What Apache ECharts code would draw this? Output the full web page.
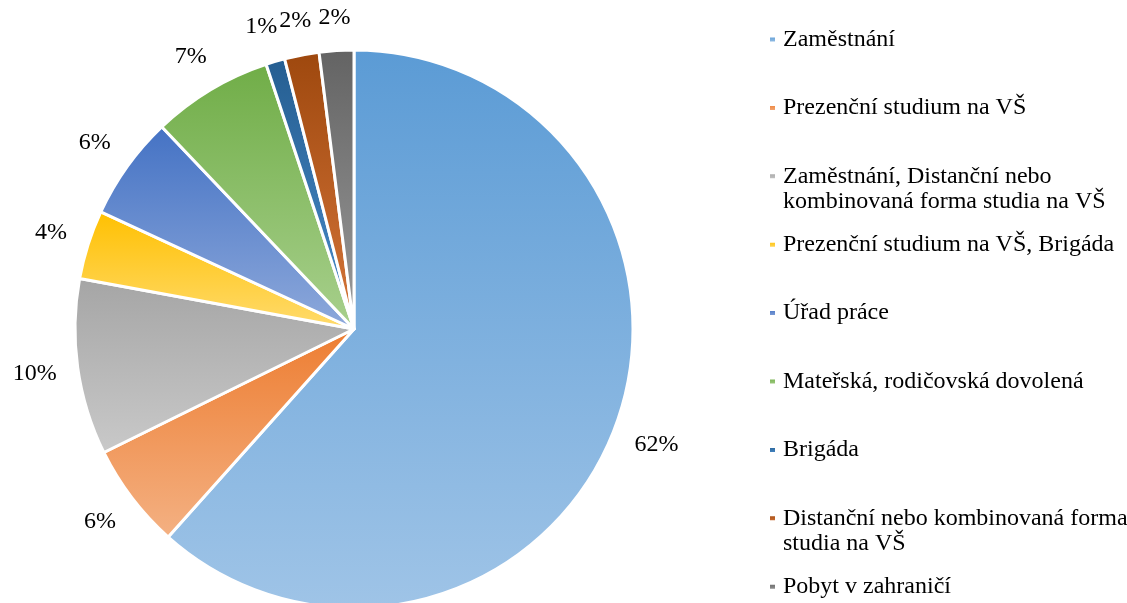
<!DOCTYPE html>
<html>
<head>
<meta charset="utf-8">
<script src="https://cdn.jsdelivr.net/npm/echarts@6/dist/echarts.min.js"></script>
<style>
    html, body { margin: 0; padding: 0; background: #fff; }
    #chart { width: 1127px; height: 603px; }
</style>
</head>
<body>
<div id="chart"></div>
<script>
const categories = [
    'Zaměstnání',
    'Prezenční studium na VŠ',
    'Zaměstnání, Distanční nebo kombinovaná forma studia na VŠ',
    'Prezenční studium na VŠ, Brigáda',
    'Úřad práce',
    'Mateřská, rodičovská dovolená',
    'Brigáda',
    'Distanční nebo kombinovaná forma studia na VŠ',
    'Pobyt v zahraničí'
]
// shares (%) read from the slice edges; labels show them rounded
const values = [61.6, 6.1, 10.2, 4.0, 6.0, 7.0, 1.1, 2.0, 2.0]
// how the legend wraps the long names
const legendLines = [
    ['Zaměstnání'],
    ['Prezenční studium na VŠ'],
    ['Zaměstnání, Distanční nebo', 'kombinovaná forma studia na VŠ'],
    ['Prezenční studium na VŠ, Brigáda'],
    ['Úřad práce'],
    ['Mateřská, rodičovská dovolená'],
    ['Brigáda'],
    ['Distanční nebo kombinovaná forma', 'studia na VŠ'],
    ['Pobyt v zahraničí']
]
const topColors = ['#5B9BD5', '#ED7D31', '#A5A5A5', '#FFC000', '#4472C4', '#70AD47', '#255E91', '#9E480E', '#636363']
const bottomColors = ['#9FC4E7', '#F4B183', '#C9C9C9', '#FFDB6E', '#8EA9DB', '#A8D08D', '#4A8CCB', '#D6763A', '#9B9B9B']

const font = 'Liberation Serif, Times New Roman, serif'
const fontSize = 24
const lineH = 25

const center = [354, 329]
const radius = 279
const labelGap = 20

const chart = echarts.init(document.getElementById('chart'))

function gradient(i) {
    return {
        type: 'linear', x: 0, y: 0, x2: 0, y2: 1,
        colorStops: [
            { offset: 0, color: topColors[i] },
            { offset: 1, color: bottomColors[i] }
        ]
    }
}

const pieData = categories.map((name, i) => ({
    name: name,
    value: values[i],
    itemStyle: { color: gradient(i) }
}))

// one legend per entry so every entry starts at the same spacing
const legends = categories.map((name, i) => {
    const lines = legendLines[i]
    // a blank first line keeps the icon level with the first text line
    const text = lines.length > 1 ? [' '].concat(lines).join('\n') : lines[0]
    const n = lines.length > 1 ? lines.length + 1 : 1
    const firstLineCenter = 39.5 + i * 68.4
    return {
        data: [name],
        orient: 'vertical',
        left: 768,
        top: firstLineCenter - n * lineH / 2,
        padding: 0,
        icon: 'rect',
        itemWidth: 7,
        itemHeight: 6,
        selectedMode: false,
        formatter: () => text,
        textStyle: {
            fontFamily: font,
            fontSize: fontSize,
            lineHeight: lineH,
            color: '#000',
            padding: [0, 0, 0, 2]
        }
    }
})

// labels sit just outside the rim, like "outside end" labels
const labelPos = []
function placeLabel(p) {
    const r = p.labelRect
    const dx = r.x + r.width / 2 - center[0]
    const dy = r.y + r.height / 2 - center[1]
    const len = Math.sqrt(dx * dx + dy * dy) || 1
    const ux = dx / len, uy = dy / len
    const dist = radius + labelGap + Math.abs(ux) * r.width / 2 + Math.abs(uy) * r.height / 2
    labelPos[p.dataIndex] = { x: center[0] + ux * dist, y: center[1] + uy * dist, w: r.width, h: r.height }
    return { x: labelPos[p.dataIndex].x, y: labelPos[p.dataIndex].y, align: 'center', verticalAlign: 'middle', hideOverlap: false }
}

// crowded labels near the top get pushed left
function spreadLabels() {
    for (let i = labelPos.length - 2; i >= 0; i--) {
        const a = labelPos[i], b = labelPos[i + 1]
        if (!a || !b) continue
        const overlapY = Math.abs(a.y - b.y) < (a.h + b.h) / 2
        const overlapX = a.x + a.w / 2 > b.x - b.w / 2 && a.x < b.x
        if (overlapY && overlapX) {
            a.x = b.x - b.w / 2 - a.w / 2 - 2
        }
    }
}

const option = {
    backgroundColor: '#fff',
    animation: false,
    legend: legends,
    series: [
        {
            type: 'pie',
            center: center,
            radius: radius,
            startAngle: 90,
            clockwise: true,
            label: {
                show: true,
                position: 'inside',
                formatter: (p) => Math.round(p.value) + '%',
                fontFamily: font,
                fontSize: fontSize,
                color: '#000'
            },
            labelLine: { show: false },
            labelLayout: placeLabel,
            itemStyle: { borderColor: '#fff', borderWidth: 3 },
            emphasis: { disabled: true },
            data: pieData
        }
    ]
}

chart.setOption(option)
spreadLabels()
chart.setOption({
    series: [{
        labelLayout: (p) => ({
            x: labelPos[p.dataIndex].x,
            y: labelPos[p.dataIndex].y,
            align: 'center',
            verticalAlign: 'middle',
            hideOverlap: false
        })
    }]
})
</script>
</body>
</html>
